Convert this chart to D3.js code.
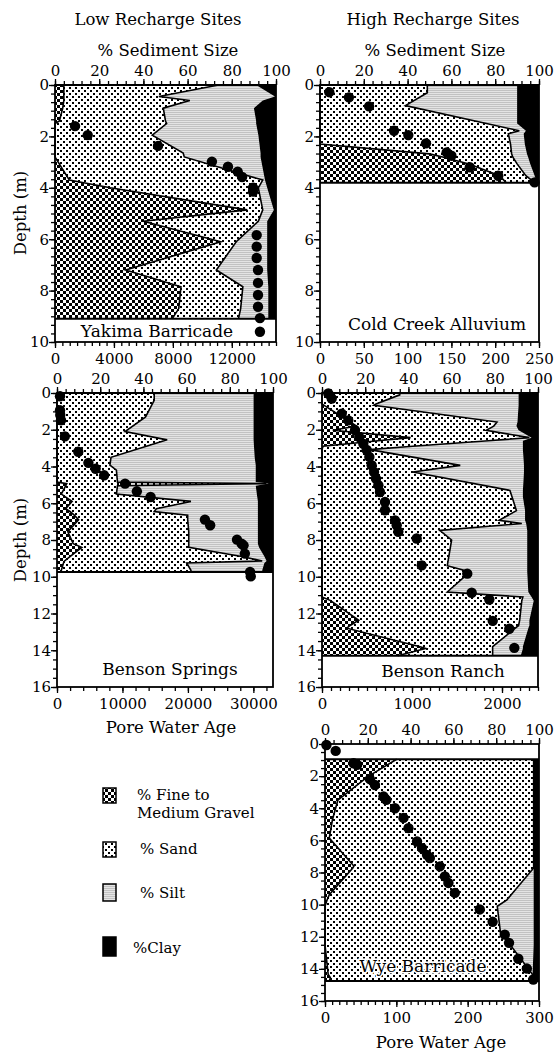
<!DOCTYPE html>
<html>
<head>
<meta charset="utf-8">
<script src="https://cdn.jsdelivr.net/npm/d3@7"></script>
<style>
  body { margin: 0; background: #fff; }
  svg text { font-family: "DejaVu Serif", "Liberation Serif", serif; fill: #000; }
</style>
</head>
<body>
<svg id="chart" width="558" height="1054"></svg>
<script>
// ---- data ----
// sediment composition (%) at each sampled depth (m)
const yakimaDepth  = [0, 0.45, 0.6, 0.9, 1.4, 1.5, 1.95, 2.65, 2.8, 3.7, 4.0, 4.86, 5.3, 6.1, 7.2, 7.85, 8.7, 9.1];
const yakimaGravel = [4, 4, 4, 3.5, 2, 0, 0, 0, 0, 6.5, 25, 87, 40, 75, 32, 57, 56, 53];
const yakimaSand   = [70, 43, 57, 45.5, 48, 50.5, 44, 58, 58.5, 87.5, 67, 7, 52, 7, 41, 28, 28, 30];
const yakimaSilt   = [17, 52.5, 33, 41, 41, 40.5, 48, 35, 34.5, 1, 4, 5, 4, 14, 23, 11.5, 12.5, 13.5];
const yakimaClay   = [9, 0.5, 6, 10, 9, 9, 8, 7, 7, 5, 4, 1, 4, 4, 4, 3.5, 3.5, 3.5];
const yakimaAge      = [1360, 2220, 6990, 10650, 11740, 12400, 12700, 13440, 13440, 13690, 13690, 13690, 13780, 13780, 13780, 13780, 13910, 13910];
const yakimaAgeDepth = [1.6, 1.95, 2.37, 2.98, 3.18, 3.37, 3.58, 4.0, 4.15, 5.84, 6.29, 6.73, 7.2, 7.7, 8.17, 8.63, 9.07, 9.6];

const coldDepth  = [0, 0.3, 0.8, 1.5, 1.78, 1.9, 2.3, 2.68, 2.8, 3.07, 3.53, 3.8];
const coldGravel = [0, 0, 0, 0, 0, 0, 0, 50, 56, 68, 82, 85];
const coldSand   = [49, 49, 39, 76, 91, 86, 87, 37.5, 32, 22, 12, 13];
const coldSilt   = [41, 41, 51, 14, 3, 7, 6.5, 7, 7, 6, 4, 1];
const coldClay   = [10, 10, 10, 10, 6, 7, 6.5, 5.5, 5, 4, 2, 1];
const coldAge      = [10.6, 33, 56, 84.5, 100.8, 121, 144.6, 150, 171, 203.5, 245];
const coldAgeDepth = [0.28, 0.48, 0.83, 1.78, 1.95, 2.27, 2.62, 2.75, 3.2, 3.53, 3.79];

const springsDepth  = [0, 0.4, 1.3, 2.1, 2.55, 3.5, 3.93, 4.2, 4.85, 4.93, 5.05, 5.5, 5.9, 6.3, 6.45, 6.65, 6.9, 7.55, 8.2, 8.4, 8.9, 9.14, 9.25, 9.65, 9.74];
const springsGravel = [0, 0, 0, 0, 0, 0, 0, 0, 0, 4.5, 4, 2, 7, 4, 6, 8, 10, 5, 7.5, 11.5, 6, 3.5, 3, 2, 2];
const springsSand   = [45, 45, 41, 31.5, 51, 25, 24.5, 27.5, 28, 92.5, 24, 25.5, 55, 42, 39, 52.5, 50.5, 56, 53.5, 49.5, 79.5, 91.5, 57, 60, 60];
const springsSilt   = [46, 46, 50, 59.5, 40, 66.5, 67.5, 64.5, 64, 1, 64, 65, 31, 47, 48, 32.5, 32.5, 32, 32, 32.5, 10.5, 2, 36, 33, 33];
const springsClay   = [9, 9, 9, 9, 9, 8.5, 8, 8, 8, 2, 8, 7.5, 7, 7, 7, 7, 7, 7, 7, 6.5, 4, 3, 4, 5, 5];
const springsAge      = [460, 460, 500, 610, 1200, 3250, 4800, 5900, 7200, 10400, 12200, 14300, 22600, 23400, 27500, 28200, 28500, 28700, 29500, 29600];
const springsAgeDepth = [0.18, 0.94, 1.2, 1.48, 2.36, 3.2, 3.8, 4.12, 4.48, 4.93, 5.35, 5.66, 6.89, 7.2, 7.98, 8.2, 8.29, 8.74, 9.74, 9.98];

const ranchDepth  = [0, 0.1, 0.6, 0.67, 1.58, 1.8, 2.03, 2.43, 2.6, 2.9, 3.08, 3.94, 4.3, 5.3, 5.66, 6.4, 6.93, 7.1, 7.48, 8.0, 9.4, 9.74, 10.83, 11.1, 11.3, 12.37, 12.65, 12.8, 13.8, 13.9, 14.3];
const ranchGravel = [0, 0, 0, 1, 13, 16, 5, 41, 26, 0.5, 0, 0, 0, 0, 0, 0, 0, 0, 0, 0, 0, 0, 0, 0, 4, 17, 13, 11.5, 45, 48, 35];
const ranchSand   = [36, 36, 25, 23, 68, 63.5, 71, 55, 51, 41.5, 22, 64, 42, 87, 88, 90, 82, 92.5, 54.5, 60, 58, 68.5, 58, 93, 88.5, 74.5, 78, 78, 34, 31, 44];
const ranchSilt   = [55, 55, 66, 67, 9.5, 10.5, 15, 1, 16, 51, 71, 29.5, 51.5, 6, 5, 4, 12, 2, 40.5, 35, 37, 26.5, 37.5, 4, 5.5, 4.5, 5, 6, 14, 14, 13];
const ranchClay   = [9, 9, 9, 9, 9.5, 10, 9, 3, 7, 7, 7, 6.5, 6.5, 7, 7, 6, 6, 5.5, 5, 5, 5, 5, 4.5, 3, 2, 4, 4, 4.5, 7, 7, 8];
const ranchAge      = [70, 108, 219, 292, 367, 414, 459, 497, 526, 552, 578, 600, 626, 644, 700, 700, 811, 830, 848, 1052, 1108, 1614, 1663, 1859, 1897, 2081, 2137];
const ranchAgeDepth = [0.03, 0.3, 1.12, 1.49, 2.03, 2.4, 2.76, 3.1, 3.48, 3.93, 4.3, 4.66, 5.02, 5.39, 5.93, 6.38, 6.93, 7.2, 7.55, 7.92, 9.38, 9.83, 10.87, 11.24, 12.4, 12.83, 13.87];

const wyeDepth  = [0.95, 2.03, 3.5, 4.7, 5.86, 7.6, 7.72, 9.38, 9.7, 10.1, 11.76, 12.5, 14.35, 14.55, 14.76];
const wyeGravel = [33.5, 20, 6, 3.5, 2, 13.5, 13, 2, 1, 0, 0, 0, 1.5, 2.5, 2];
const wyeSand   = [64, 77.5, 91.5, 94, 95.5, 84, 84.5, 85, 84, 80.5, 82, 86.5, 95.5, 94.5, 95];
const wyeSilt   = [0, 0, 0, 0, 0, 0, 0, 10.5, 12.5, 17, 15.5, 11, 0, 0, 0];
const wyeClay   = [2.5, 2.5, 2.5, 2.5, 2.5, 2.5, 2.5, 2.5, 2.5, 2.5, 2.5, 2.5, 3, 3, 3];
const wyeAge      = [2, 15, 40, 45, 63, 70, 82, 86, 98, 110, 117, 129, 136, 143, 147, 161, 168, 173, 182, 217, 235, 252, 258, 271, 283, 292];
const wyeAgeDepth = [0.06, 0.43, 1.2, 1.3, 2.19, 2.55, 3.27, 3.48, 4.0, 4.6, 5.24, 6.07, 6.48, 6.9, 7.1, 7.62, 8.24, 8.65, 9.27, 10.3, 11.07, 11.87, 12.38, 13.37, 13.98, 14.66];

// tick labels
const pctTicks = [0, 20, 40, 60, 80, 100];
const depthTicks10 = [0, 2, 4, 6, 8, 10];
const depthTicks16 = [0, 2, 4, 6, 8, 10, 12, 14, 16];
const yakimaAgeTicks = [0, 4000, 8000, 12000];
const coldAgeTicks = [0, 50, 100, 150, 200, 250];
const springsAgeTicks = [0, 10000, 20000, 30000];
const ranchAgeTicks = [0, 1000, 2000];
const wyeAgeTicks = [0, 100, 200, 300];

const keys = ["gravel", "sand", "silt", "clay"];

const svg = d3.select("#chart");
svg.append("rect").attr("width", 558).attr("height", 1054).attr("fill", "#fff");
const defs = svg.append("defs");

// fill patterns (whole pixels so they stay crisp)
const pg = defs.append("pattern").attr("id", "gravel").attr("patternUnits", "userSpaceOnUse")
  .attr("width", 6).attr("height", 6);
pg.append("rect").attr("width", 6).attr("height", 6).attr("fill", "#fff");
pg.append("rect").attr("width", 3).attr("height", 3).attr("fill", "#000");
pg.append("rect").attr("x", 3).attr("y", 3).attr("width", 3).attr("height", 3).attr("fill", "#000");

const ps = defs.append("pattern").attr("id", "sand").attr("patternUnits", "userSpaceOnUse")
  .attr("width", 6).attr("height", 6);
ps.append("rect").attr("width", 6).attr("height", 6).attr("fill", "#fff");
ps.append("rect").attr("width", 2).attr("height", 2).attr("fill", "#000");
ps.append("rect").attr("x", 3).attr("y", 3).attr("width", 2).attr("height", 2).attr("fill", "#000");

const pst = defs.append("pattern").attr("id", "silt").attr("patternUnits", "userSpaceOnUse")
  .attr("width", 2).attr("height", 2);
pst.append("rect").attr("width", 2).attr("height", 2).attr("fill", "#e4e4e4");
pst.append("rect").attr("width", 2).attr("height", 1).attr("fill", "#c2c2c2");

const fills = { gravel: "url(#gravel)", sand: "url(#sand)", silt: "url(#silt)", clay: "#000" };

function styleAxis(a, size) {
  a.select(".domain").remove();
  a.attr("font-family", null).attr("font-size", null);
  a.selectAll("line").attr("stroke", "#000").attr("stroke-width", 1.3);
  a.selectAll("text").style("font-size", size + "px");
}

function drawPanel(p) {
  const x = d3.scaleLinear().domain([0, 100]).range([p.left, p.right]);
  const xAge = d3.scaleLinear().domain([0, p.ageMax]).range([p.left, p.right]);
  const y = d3.scaleLinear().domain([0, p.depthMax]).range([p.top, p.bottom]);
  const g = svg.append("g");

  const rows = p.depth.map((d, i) => ({
    depth: d, gravel: p.gravel[i], sand: p.sand[i], silt: p.silt[i], clay: p.clay[i]
  }));
  const series = d3.stack().keys(keys)(rows);

  const area = d3.area()
    .y(d => y(d.data.depth))
    .x0(d => x(d[0]))
    .x1(d => x(d[1]));

  g.selectAll("path.layer").data(series).join("path")
    .attr("class", "layer")
    .attr("d", area)
    .attr("fill", d => fills[d.key]);

  // outlines between gravel/sand and sand/silt
  const edge = d3.line().x(d => x(d[1])).y(d => y(d.data.depth));
  g.selectAll("path.edge").data(series.filter(s => s.key === "gravel" || s.key === "sand")).join("path")
    .attr("class", "edge")
    .attr("d", edge)
    .attr("fill", "none")
    .attr("stroke", "#000")
    .attr("stroke-width", 1.6);

  // top / bottom of the sampled interval
  [p.depth[0], p.depth[p.depth.length - 1]].forEach(d => {
    g.append("line")
      .attr("x1", p.left).attr("x2", p.right)
      .attr("y1", y(d)).attr("y2", y(d))
      .attr("stroke", "#000").attr("stroke-width", 2);
  });

  // frame
  g.append("rect")
    .attr("x", p.left).attr("y", p.top)
    .attr("width", p.right - p.left).attr("height", p.bottom - p.top)
    .attr("fill", "none").attr("stroke", "#000").attr("stroke-width", 1.8);

  // top axis: % sediment size
  g.append("g").attr("transform", `translate(0,${p.top})`)
    .call(d3.axisTop(x).tickValues(d3.range(0, 100.01, 4)).tickSize(4).tickFormat(""))
    .call(a => styleAxis(a, 14));
  g.append("g").attr("transform", `translate(0,${p.top})`)
    .call(d3.axisTop(x).tickValues(pctTicks).tickSize(6).tickPadding(3))
    .call(a => styleAxis(a, 15));

  // left axis: depth
  g.append("g").attr("transform", `translate(${p.left},0)`)
    .call(d3.axisLeft(y).tickValues(d3.range(0, p.depthMax + 0.01, p.depthMinor)).tickSize(4).tickFormat(""))
    .call(a => styleAxis(a, 14));
  g.append("g").attr("transform", `translate(${p.left},0)`)
    .call(d3.axisLeft(y).tickValues(p.depthTicks).tickSize(6).tickPadding(0))
    .call(a => styleAxis(a, 15));

  // bottom axis: pore water age
  g.append("g").attr("transform", `translate(0,${p.bottom})`)
    .call(d3.axisBottom(xAge).tickValues(d3.range(0, p.ageMax + 0.01, p.ageMinor)).tickSize(4).tickFormat(""))
    .call(a => styleAxis(a, 14));
  g.append("g").attr("transform", `translate(0,${p.bottom})`)
    .call(d3.axisBottom(xAge).tickValues(p.ageTicks).tickSize(6).tickPadding(5).tickFormat(d3.format("d")))
    .call(a => styleAxis(a, 15));

  // site name (white halo keeps it legible over the fill patterns)
  g.append("text")
    .attr("x", p.labelX).attr("y", y(p.labelDepth))
    .attr("text-anchor", "middle")
    .attr("stroke", "#fff").attr("stroke-width", 3).attr("paint-order", "stroke")
    .style("font-size", "17px")
    .text(p.name);

  // pore water age points
  g.selectAll("circle").data(p.age.map((a, i) => [a, p.ageDepth[i]])).join("circle")
    .attr("cx", d => xAge(d[0]))
    .attr("cy", d => y(d[1]))
    .attr("r", 5.2)
    .attr("fill", "#000");
}

drawPanel({
  name: "Yakima Barricade", left: 55, right: 276, top: 85, bottom: 342,
  depthMax: 10, depthMinor: 1 / 3, depthTicks: depthTicks10,
  ageMax: 15000, ageMinor: 500, ageTicks: yakimaAgeTicks,
  depth: yakimaDepth, gravel: yakimaGravel, sand: yakimaSand, silt: yakimaSilt, clay: yakimaClay,
  age: yakimaAge, ageDepth: yakimaAgeDepth, labelX: 157, labelDepth: 9.8
});
drawPanel({
  name: "Cold Creek Alluvium", left: 320, right: 539, top: 85, bottom: 342,
  depthMax: 10, depthMinor: 1 / 3, depthTicks: depthTicks10,
  ageMax: 250, ageMinor: 10, ageTicks: coldAgeTicks,
  depth: coldDepth, gravel: coldGravel, sand: coldSand, silt: coldSilt, clay: coldClay,
  age: coldAge, ageDepth: coldAgeDepth, labelX: 437, labelDepth: 9.55
});
drawPanel({
  name: "Benson Springs", left: 57, right: 273, top: 393, bottom: 687,
  depthMax: 16, depthMinor: 0.5, depthTicks: depthTicks16,
  ageMax: 33000, ageMinor: 2000, ageTicks: springsAgeTicks,
  depth: springsDepth, gravel: springsGravel, sand: springsSand, silt: springsSilt, clay: springsClay,
  age: springsAge, ageDepth: springsAgeDepth, labelX: 170, labelDepth: 15.35
});
drawPanel({
  name: "Benson Ranch", left: 322, right: 538, top: 393, bottom: 687,
  depthMax: 16, depthMinor: 0.5, depthTicks: depthTicks16,
  ageMax: 2400, ageMinor: 100, ageTicks: ranchAgeTicks,
  depth: ranchDepth, gravel: ranchGravel, sand: ranchSand, silt: ranchSilt, clay: ranchClay,
  age: ranchAge, ageDepth: ranchAgeDepth, labelX: 443, labelDepth: 15.45
});
drawPanel({
  name: "Wye Barricade", left: 325, right: 539, top: 744, bottom: 1001,
  depthMax: 16, depthMinor: 0.5, depthTicks: depthTicks16,
  ageMax: 300, ageMinor: 10, ageTicks: wyeAgeTicks,
  depth: wyeDepth, gravel: wyeGravel, sand: wyeSand, silt: wyeSilt, clay: wyeClay,
  age: wyeAge, ageDepth: wyeAgeDepth, labelX: 423, labelDepth: 14.2
});

// titles
const titles = [
  { t: "Low Recharge Sites", x: 158, y: 25 },
  { t: "High Recharge Sites", x: 433, y: 25 },
  { t: "% Sediment Size", x: 168, y: 56 },
  { t: "% Sediment Size", x: 435, y: 56 },
  { t: "Pore Water Age", x: 171, y: 733 },
  { t: "Pore Water Age", x: 441, y: 1048 }
];
svg.selectAll("text.title").data(titles).join("text")
  .attr("class", "title")
  .attr("x", d => d.x).attr("y", d => d.y)
  .attr("text-anchor", "middle")
  .style("font-size", "16.5px")
  .text(d => d.t);

[213, 540].forEach(cy => {
  svg.append("text")
    .attr("transform", `translate(26,${cy}) rotate(-90)`)
    .attr("text-anchor", "middle")
    .style("font-size", "16.5px")
    .text("Depth (m)");
});

// legend
const legendData = [
  { key: "gravel", lines: ["% Fine to", "Medium Gravel"], y: 788, h: 15, tx: 137 },
  { key: "sand", lines: ["% Sand"], y: 842, h: 15, tx: 140 },
  { key: "silt", lines: ["% Silt"], y: 884, h: 17, tx: 140 },
  { key: "clay", lines: ["%Clay"], y: 937, h: 19, tx: 133 }
];
const legend = svg.append("g");
const items = legend.selectAll("g").data(legendData).join("g");
items.append("rect")
  .attr("x", 103).attr("y", d => d.y)
  .attr("width", 13).attr("height", d => d.h)
  .attr("fill", d => fills[d.key])
  .attr("stroke", "#000").attr("stroke-width", 1.5);
items.each(function(d) {
  const t = d3.select(this);
  d.lines.forEach((line, i) => {
    t.append("text")
      .attr("x", d.tx).attr("y", d.y + d.h - 3 + i * 18)
      .style("font-size", "15px")
      .text(line);
  });
});
</script>
</body>
</html>
